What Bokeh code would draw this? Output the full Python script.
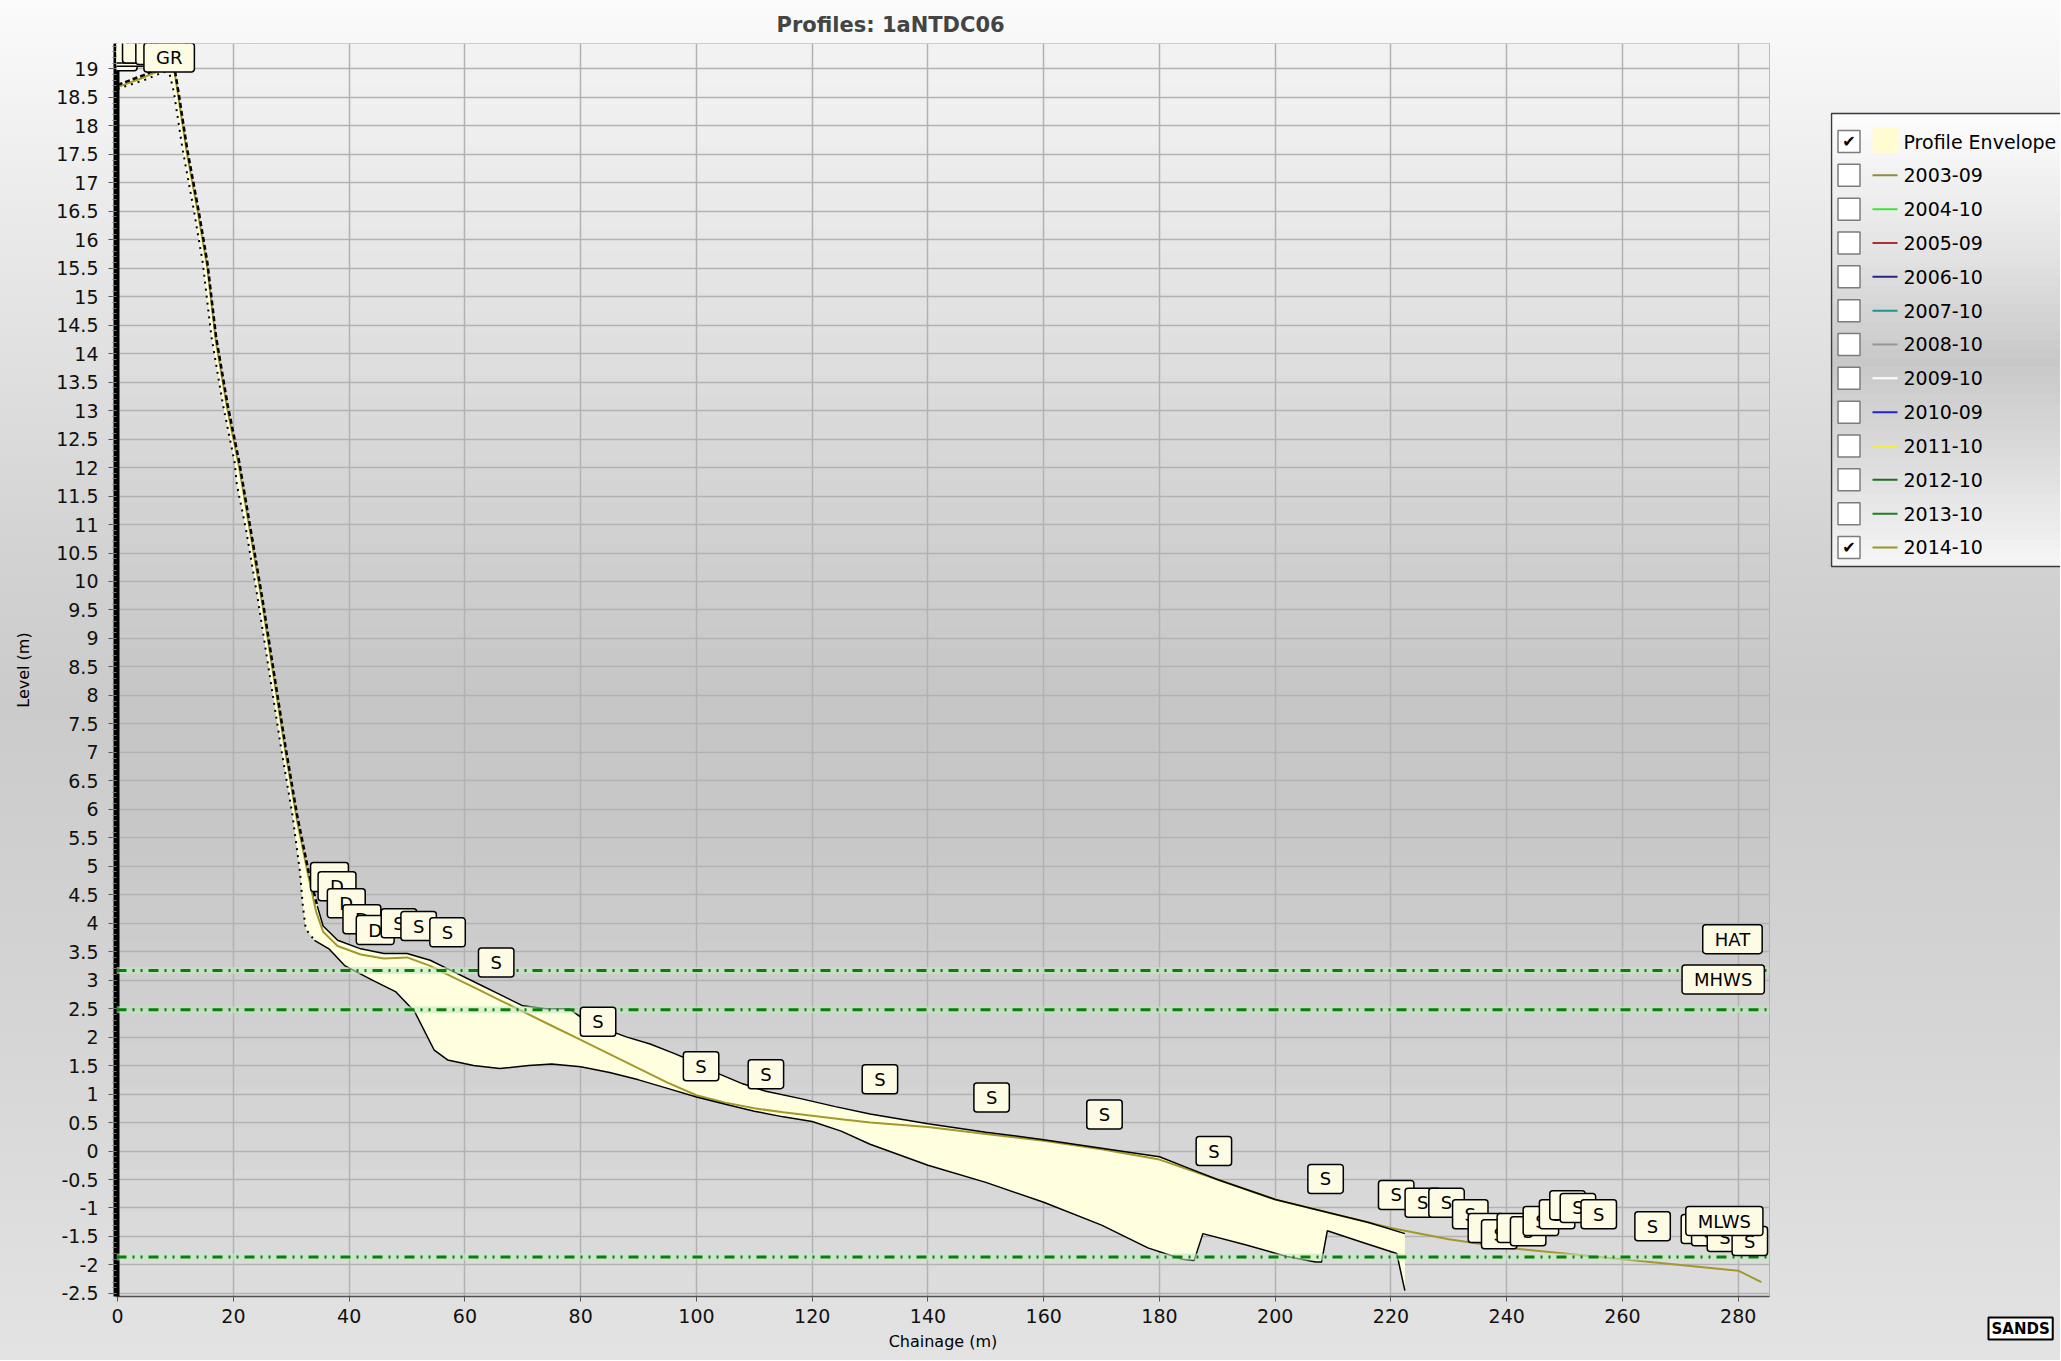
import numpy as np
from bokeh.plotting import figure
from bokeh.models import (Range1d, FixedTicker, CustomJSTickFormatter, Span, Label,
                          BoxAnnotation, Title)
from bokeh.layouts import row
from bokeh.embed import file_html
from bokeh.resources import INLINE
from bokeh.core.properties import value

FONT = "DejaVu Sans"
TITLE = "Profiles: 1aNTDC06"

# ---------------- data ----------------
env_upper_x = [0, 4.5, 8, 9.6, 10.5, 12, 14, 15.5, 17, 19, 21, 23, 25, 27, 29, 31, 33, 34.5,
               35.5, 38, 42, 46, 50, 54, 58, 62, 66, 70, 74, 78, 80, 84, 88, 92, 96, 100,
               104, 108, 112, 118, 124, 130, 140, 150, 160, 170, 180, 185, 190, 200, 210, 216, 222.4]
env_upper_y = [18.72, 18.89, 19.05, 19.15, 18.6, 17.6, 16.5, 15.6, 14.3, 13.1, 12.1, 10.9, 9.7, 8.4,
               7.1, 5.9, 4.9, 4.3, 3.95, 3.7, 3.55, 3.47, 3.47, 3.35, 3.15, 2.95, 2.75, 2.55, 2.5,
               2.5, 2.35, 2.15, 2.0, 1.88, 1.72, 1.55, 1.35, 1.18, 1.05, 0.92, 0.78, 0.65, 0.48,
               0.33, 0.2, 0.05, -0.1, -0.3, -0.5, -0.85, -1.1, -1.25, -1.45]
env_lower_x = [0, 4.5, 8, 9.0, 9.7, 11.2, 13.2, 14.7, 16.2, 18.2, 20.2, 20.6, 22.2, 24.2, 26.2,
               28.2, 30.2, 31.5, 32, 32.5, 34, 36.5, 39.3, 44, 48, 51.3, 54.7, 57, 61.5, 66, 71,
               75, 80, 85, 90, 95, 100, 105, 110, 115, 120, 125, 130, 140, 150, 160, 170, 178,
               184, 186, 187.5, 195, 202, 207, 208, 209, 215, 221, 222.4]
env_lower_y = [18.65, 18.8, 18.95, 18.9, 18.6, 17.6, 16.5, 15.6, 14.3, 13.1, 12.1, 11.7, 10.9, 9.7,
               8.4, 7.1, 5.9, 4.9, 4.3, 3.9, 3.7, 3.55, 3.25, 3.0, 2.8, 2.45, 1.77, 1.6, 1.5, 1.45,
               1.5, 1.53, 1.48, 1.38, 1.25, 1.1, 0.95, 0.82, 0.7, 0.6, 0.52, 0.35, 0.12, -0.25,
               -0.55, -0.9, -1.3, -1.7, -1.9, -1.92, -1.45, -1.65, -1.85, -1.95, -1.95, -1.4,
               -1.6, -1.8, -2.45]

p2014_x = [0, 4.5, 8, 9.6, 10.5, 12, 14, 15.5, 17, 19, 21, 23, 25, 27, 29, 31, 33, 34.3, 35.5,
           38, 42, 46, 50, 54, 58, 62, 66, 70, 75, 80, 85, 90, 95, 100, 105, 110, 115, 120, 125,
           130, 140, 150, 160, 170, 180, 190, 200, 210, 220, 230, 240, 250, 260, 270, 280, 284]
p2014_y = [18.68, 18.85, 19.0, 19.1, 18.5, 17.5, 16.4, 15.5, 14.2, 13.0, 12.0, 10.8, 9.6, 8.3,
           7.0, 5.8, 4.8, 4.2, 3.85, 3.6, 3.45, 3.38, 3.4, 3.25, 3.05, 2.85, 2.65, 2.45, 2.2,
           1.95, 1.7, 1.45, 1.2, 0.98, 0.85, 0.75, 0.68, 0.62, 0.56, 0.5, 0.42, 0.3, 0.18, 0.03,
           -0.15, -0.5, -0.85, -1.1, -1.35, -1.55, -1.7, -1.8, -1.9, -2.0, -2.1, -2.3]

tide_names = ["HAT", "MHWS", "MLWS"]
tide_levels = [3.17, 2.48, -1.86]
tide_label_x = [279.0, 277.4, 277.6]
tide_label_y = [3.72, 3.01, -1.23]

code_x = [-1.0, 1.4, 3.2, 5.2, 7.5, 8.9,
          36.6, 37.9, 39.5, 42.2, 44.5, 48.6, 52.0, 57.0, 65.4,
          83.0, 100.8, 112.0, 131.7, 151.0, 170.5, 189.4, 208.7,
          220.9, 225.5, 229.6, 233.7, 236.4, 238.7, 241.4, 243.7, 245.9, 248.7, 250.5, 252.3, 255.9,
          265.2, 273.2, 275.0, 277.7, 282.0]
code_y = [19.22, 19.3, 19.36, 19.36, 19.33, 19.2,
          4.81, 4.65, 4.35, 4.07, 3.88, 4.0, 3.95, 3.84, 3.31,
          2.27, 1.49, 1.35, 1.26, 0.94, 0.64, 0.0, -0.49,
          -0.77, -0.91, -0.91, -1.11, -1.35, -1.46, -1.35, -1.41, -1.23, -1.11, -0.95, -1.0, -1.11,
          -1.32, -1.37, -1.41, -1.51, -1.58]
code_text = ["GR"] * 6 + ["D"] * 5 + ["S"] * 4 + ["S"] * 8 + ["S"] * 13 + ["S"] * 5

legend_labels = ["Profile Envelope", "2003-09", "2004-10", "2005-09", "2006-10", "2007-10",
                 "2008-10", "2009-10", "2010-09", "2011-10", "2012-10", "2013-10", "2014-10"]
legend_colors = ["#fffcd2", "#8f8a3c", "#3ee23e", "#a83232", "#26267e", "#219090", "#959595",
                 "#ffffff", "#2323c8", "#f2ef3a", "#1e6e1e", "#1f7f1f", "#9e922a"]
legend_checked = [True] + [False] * 11 + [True]

x_ticks = list(range(0, 281, 20))
y_ticks = [round(-2.5 + 0.5 * i, 1) for i in range(44)]
y_minor = [round(-2.5 + 0.1 * i, 1) for i in range(220)]

ENV_FILL = "#ffffe0"
LINE_2014 = "#a3982c"
TIDE_COLOR = "#0b7d0b"
BOX_FILL = "#fdfbe3"

PAGE_BG = ("linear-gradient(to bottom, #fbfbfb 0%, #ececec 14%, #d3d3d3 40%, #cbcbcb 52%, "
           "#d5d5d5 75%, #e3e3e3 100%)")

# page geometry (pixels)
PW, QW, H = 1830, 230, 1360
B_LEFT, B_RIGHT, B_TOP, B_BOTTOM = 116, 61, 43, 64
FRAME_TOP, FRAME_BOTTOM = B_TOP, H - B_BOTTOM


def grey_hex(g):
    g = int(round(g))
    return "#%02x%02x%02x" % (g, g, g)


# ---------------- main figure ----------------
YMIN, YMAX = -2.554, 19.446
p = figure(width=PW, height=H, x_range=Range1d(-0.2, 285.4), y_range=Range1d(YMIN, YMAX),
           output_backend="svg", toolbar_location=None,
           min_border_left=B_LEFT, min_border_right=B_RIGHT, min_border_top=B_TOP,
           min_border_bottom=B_BOTTOM,
           background_fill_color=None, border_fill_color=None, outline_line_color="#a8a8a8",
           title=TITLE)
p.styles = {"background": PAGE_BG}

p.title.text_font = FONT
p.title.text_font_size = "21px"
p.title.text_font_style = "bold"
p.title.align = "left"
p.title.offset = 660
p.title.standoff = 14

# frame gradient
stops_f = [0.0, 0.15, 0.4, 0.52, 0.62, 0.8, 1.0]
stops_g = [243, 232, 208, 198, 199, 209, 221]
N = 60
edges = np.linspace(YMAX, YMIN, N + 1)
for i in range(N):
    f = (i + 0.5) / N
    g = np.interp(f, stops_f, stops_g)
    p.add_layout(BoxAnnotation(top=float(edges[i]) + 0.02, bottom=float(edges[i + 1]),
                               fill_color=grey_hex(g), fill_alpha=1.0, line_color=None,
                               level="image"))

# axes
p.xaxis.ticker = FixedTicker(ticks=x_ticks)
p.yaxis.ticker = FixedTicker(ticks=y_ticks, minor_ticks=y_minor)
p.xgrid.ticker = FixedTicker(ticks=x_ticks)
p.ygrid.ticker = FixedTicker(ticks=y_ticks)
p.yaxis.formatter = CustomJSTickFormatter(code="return String(tick);")
p.xaxis.formatter = CustomJSTickFormatter(code="return String(tick);")
for g in (p.xgrid, p.ygrid):
    g.grid_line_color = "#b2b2b2"
    g.grid_line_width = 1.5

p.yaxis.axis_label = "Level (m)"
p.xaxis.axis_label = "Chainage (m)"
for ax in (p.xaxis, p.yaxis):
    ax.axis_label_text_font = FONT
    ax.axis_label_text_font_size = "16px"
    ax.axis_label_text_font_style = "normal"
    ax.axis_label_text_color = "black"
    ax.major_label_text_font = FONT
    ax.major_label_text_font_size = "19px"
    ax.major_label_text_color = "#111111"
    ax.major_tick_in = 0
    ax.minor_tick_in = 0

p.yaxis.axis_line_width = 6
p.yaxis.axis_line_color = "black"
p.yaxis.major_tick_out = 8
p.yaxis.minor_tick_out = 4
p.yaxis.major_tick_line_color = "#555555"
p.yaxis.minor_tick_line_color = "#777777"
p.yaxis.major_label_standoff = 10
p.yaxis.axis_label_standoff = 20

p.xaxis.axis_line_color = "#505050"
p.xaxis.axis_line_width = 1.5
p.xaxis.major_tick_out = 5
p.xaxis.major_tick_line_color = "#555555"
p.xaxis.minor_tick_line_color = None
p.xaxis.major_label_standoff = 7
p.xaxis.axis_label_standoff = 6

# envelope
poly_x = env_upper_x + env_lower_x[::-1]
poly_y = env_upper_y + env_lower_y[::-1]
p.patch(poly_x, poly_y, fill_color=ENV_FILL, fill_alpha=1.0, line_color=None)

# 2014-10 profile
p.line(p2014_x, p2014_y, line_color=LINE_2014, line_width=2)

# envelope edges
CLIFF_END = 35.0
iu = sum(1 for v in env_upper_x if v <= CLIFF_END)
il = sum(1 for v in env_lower_x if v <= CLIFF_END - 1.0)
p.line(env_upper_x[:iu], env_upper_y[:iu], line_color="black", line_width=2.5, line_dash="5 3")
p.line(env_lower_x[:il], env_lower_y[:il], line_color="black", line_width=2, line_dash="2 5")
p.line(env_upper_x[iu - 1:], env_upper_y[iu - 1:], line_color="black", line_width=1.5)
p.line(env_lower_x[il - 1:], env_lower_y[il - 1:], line_color="black", line_width=1.5)

# tidal levels
for lvl in tide_levels:
    p.add_layout(Span(location=lvl, dimension="width", line_color="#bfe9bf", line_width=7,
                      line_alpha=0.6))
    p.add_layout(Span(location=lvl, dimension="width", line_color=TIDE_COLOR, line_width=3,
                      line_dash="10 6 2 6 2 6"))


def code_box(x, y, text):
    pad = dict(left=12, right=12, top=4, bottom=4)
    p.add_layout(Label(x=x, y=y, text=text, x_offset=4, y_offset=-4, text_align="center",
                       text_baseline="middle", text_font=FONT, text_font_size="18px",
                       text_alpha=0, background_fill_color="#2b2b2b", border_line_color=None,
                       padding=pad, border_radius=3))
    p.add_layout(Label(x=x, y=y, text=text, text_align="center", text_baseline="middle",
                       text_font=FONT, text_font_size="18px", text_color="black",
                       background_fill_color=BOX_FILL, border_line_color="black",
                       border_line_width=1.5, padding=pad, border_radius=3))


for cx, cy, ct in zip(code_x, code_y, code_text):
    code_box(cx, cy, ct)
for tx, ty, tn in zip(tide_label_x, tide_label_y, tide_names):
    code_box(tx, ty, tn)

# ---------------- legend panel (coordinates are page pixels) ----------------
q = figure(width=QW, height=H, x_range=Range1d(PW, PW + QW),
           y_range=Range1d(FRAME_BOTTOM, FRAME_TOP),
           output_backend="svg", toolbar_location=None,
           min_border_left=0, min_border_right=0, min_border_top=B_TOP,
           min_border_bottom=B_BOTTOM,
           x_axis_location=None, y_axis_location=None,
           background_fill_color=None, border_fill_color=None, outline_line_color=None)
q.grid.visible = False
q.styles = {"background": PAGE_BG}

LEG_LEFT, LEG_TOP, LEG_BOTTOM = 1831, 113, 566
ROW0, STEP = 141, 33.83
lf = [0.0, 0.3, 0.55, 0.78, 1.0]
lg = [253, 228, 200, 222, 246]
NS = 50
ledges = np.linspace(LEG_TOP, LEG_BOTTOM, NS + 1)
q.quad(left=LEG_LEFT, right=PW + QW + 20, top=ledges[:-1], bottom=ledges[1:] + 0.5,
       fill_color=[grey_hex(np.interp((k + 0.5) / NS, lf, lg)) for k in range(NS)],
       line_color=None)
q.quad(left=LEG_LEFT, right=PW + QW + 20, top=LEG_TOP, bottom=LEG_BOTTOM, fill_color=None,
       line_color="#3a3a3a", line_width=1.5)

rows_y = [ROW0 + STEP * i for i in range(len(legend_labels))]
q.rect(x=1848.5, y=rows_y, width=22, height=22, fill_color="white", line_color="#7c7c7c",
       line_width=1.5)
checked_y = [ry for ry, c in zip(rows_y, legend_checked) if c]
q.text(x=1848.5, y=checked_y, text=["\u2714"] * len(checked_y), text_align="center",
       text_baseline="middle", text_font=value(FONT), text_font_size="16px", text_color="black")
q.rect(x=[1885], y=[rows_y[0] - 1], width=26, height=26, fill_color=legend_colors[0],
       line_color=None)
q.segment(x0=1872, x1=1897, y0=rows_y[1:], y1=rows_y[1:], line_color=legend_colors[1:],
          line_width=2)
q.text(x=1903, y=rows_y, text=legend_labels, text_baseline="middle", text_align="left",
       text_font=value(FONT), text_font_size="19px", text_color="black")

# SANDS logo in the panel below the legend column
q.add_layout(Title(text="SANDS", align="left", offset=158, standoff=38, text_font=FONT,
                   text_font_size="15px", text_font_style="bold", text_color="black",
                   background_fill_color="white", border_line_color="black",
                   border_line_width=2, padding=dict(left=3, right=3, top=2, bottom=2)),
             "below")

layout = row(p, q)
open("out.html", "w").write(file_html(layout, INLINE))
